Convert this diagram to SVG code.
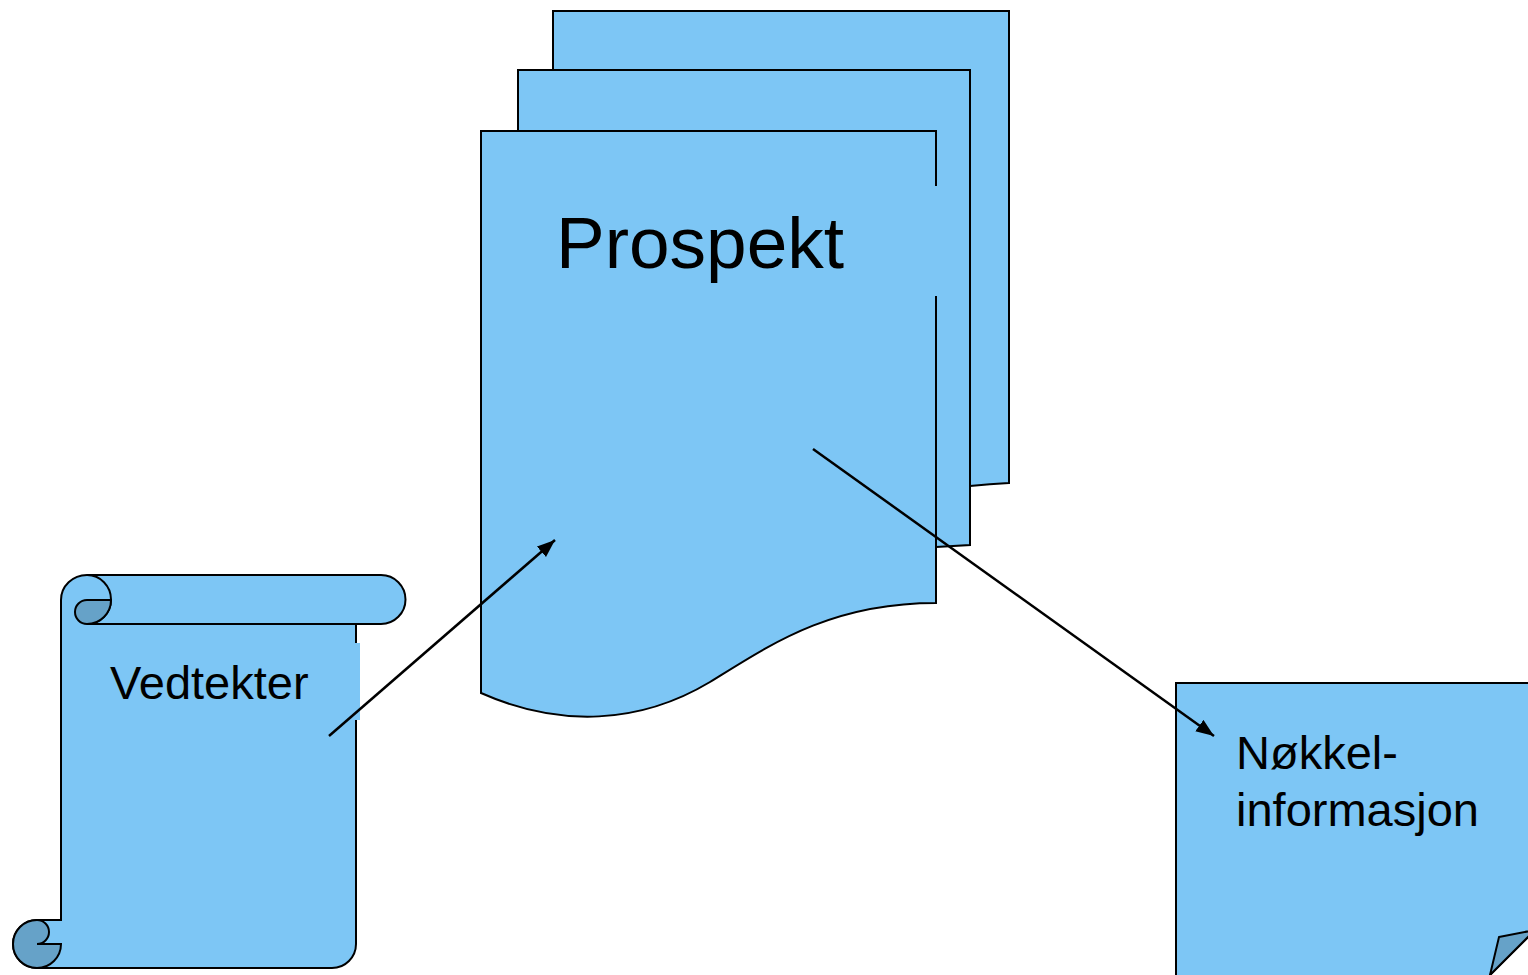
<svg xmlns="http://www.w3.org/2000/svg" width="1528" height="975" viewBox="0 0 1528 975">
<defs>
<style>
.shape{fill:#7DC6F5;stroke:#000;stroke-width:2;stroke-linejoin:miter}
.dark{fill:#66A2C8;stroke:#000;stroke-width:2}
.line{fill:none;stroke:#000;stroke-width:2}
.cover{fill:#7DC6F5;stroke:none}
.lbl{font-family:"Liberation Sans",Arial,sans-serif;fill:#000}
.conn{fill:none;stroke:#000;stroke-width:2.5}
</style>
<marker id="ah" markerUnits="userSpaceOnUse" markerWidth="20" markerHeight="16" refX="18" refY="7" orient="auto">
<path d="M0,0 L18,7 L0,14 Z" fill="#000"/>
</marker>
</defs>
<rect width="1528" height="975" fill="#fff"/>

<g id="prospekt">
<path class="shape" d="M553,11 H1009 V483 Q990,484 970,486 H553 Z"/>
<path class="shape" d="M518,70 H970 V545 Q953,546 936,547 H518 Z"/>
<path class="shape" d="M481,131 H936 V603 C830,603 770,645 710,682 C640,724 560,728 481,693 Z"/>
<rect class="cover" x="540" y="186" width="398" height="110"/>
<text class="lbl" x="556" y="268" font-size="73">Prospekt</text>
</g>

<g id="vedtekter">
<path class="shape" d="M87,575 L381,575 A24.5,24.5 0 0 1 381,624 L356,624 L356,944 A24,24 0 0 1 332,968 L37,968 A24,24 0 0 1 37,920 L61,920 L61,600 A26,25 0 0 1 87,575 Z"/>
<path class="line" d="M87,575 A24,24.5 0 0 1 87,624 L381,624"/>
<path class="dark" d="M87,600 L111,600 A24,24 0 0 1 87,624 A12,12 0 0 1 87,600 Z"/>
<path class="dark" d="M37,920 A12,12 0 0 1 37,944 L61,944 A24,24 0 0 1 37,968 A24,24 0 0 1 37,920 Z"/>
<rect class="cover" x="100" y="643" width="260" height="77"/>
<text class="lbl" x="110" y="699" font-size="47">Vedtekter</text>
</g>

<g id="nokkel">
<path class="shape" d="M1176,683 L1540,683 L1540,925 L1490,975 L1490,985 L1176,985 Z"/>
<path class="dark" d="M1499,937 L1535,930 L1490,975 Z"/>
<text class="lbl" font-size="47"><tspan x="1236" y="769">Nøkkel-</tspan><tspan x="1236" y="826">informasjon</tspan></text>
</g>

<g id="connectors">
<line class="conn" x1="329" y1="736" x2="555" y2="540" marker-end="url(#ah)"/>
<line class="conn" x1="813" y1="449" x2="1214" y2="736" marker-end="url(#ah)"/>
</g>
</svg>
